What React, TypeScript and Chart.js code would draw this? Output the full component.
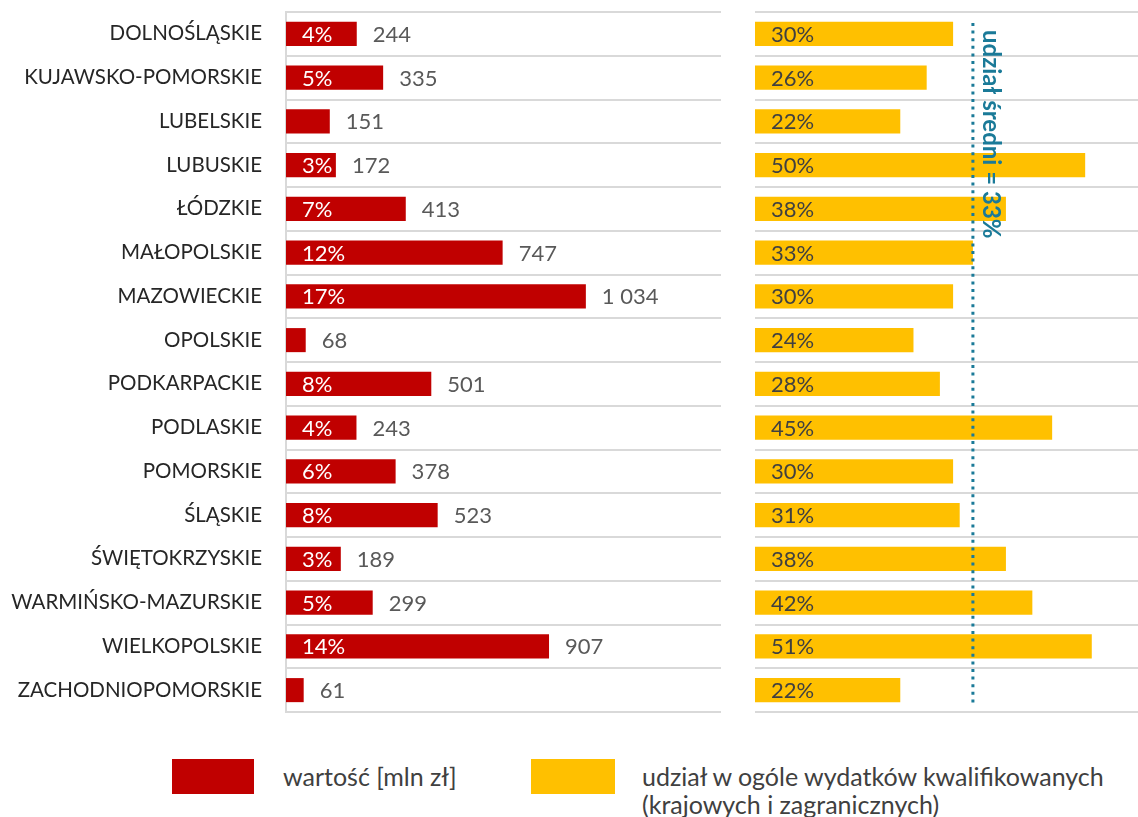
import React, { useEffect, useRef } from "react";
import { Chart, registerables } from "chart.js";

Chart.register(...registerables);

const regions = [
  "DOLNOŚLĄSKIE",
  "KUJAWSKO-POMORSKIE",
  "LUBELSKIE",
  "LUBUSKIE",
  "ŁÓDZKIE",
  "MAŁOPOLSKIE",
  "MAZOWIECKIE",
  "OPOLSKIE",
  "PODKARPACKIE",
  "PODLASKIE",
  "POMORSKIE",
  "ŚLĄSKIE",
  "ŚWIĘTOKRZYSKIE",
  "WARMIŃSKO-MAZURSKIE",
  "WIELKOPOLSKIE",
  "ZACHODNIOPOMORSKIE",
];
const valueMln = [244, 335, 151, 172, 413, 747, 1034, 68, 501, 243, 378, 523, 189, 299, 907, 61];
const valueSharePct = [4, 5, null, 3, 7, 12, 17, null, 8, 4, 6, 8, 3, 5, 14, null];
const qualifiedSharePct = [30, 26, 22, 50, 38, 33, 30, 24, 28, 45, 30, 31, 38, 42, 51, 22];
const averageSharePct = 33;
const averageLabel = "udział średni = 33%";
const legendValueLabel = "wartość [mln zł]";
const legendShareLines = ["udział w ogóle wydatków kwalifikowanych", "(krajowych i zagranicznych)"];

const FONT = "Lato, 'Open Sans', sans-serif";
const RED = "#C00000";
const YELLOW = "#FFC000";
const GRID = "#D9D9D9";
const TEAL = "#1A7A98";

const fmt = (v: number) => String(v).replace(/\B(?=(\d{3})+(?!\d))/g, " ");

export default function App() {
  const leftRef = useRef<HTMLCanvasElement>(null);
  const rightRef = useRef<HTMLCanvasElement>(null);

  useEffect(() => {
    const leftLabels = {
      id: "leftLabels",
      afterDatasetsDraw(chart: any) {
        const ctx = chart.ctx;
        const meta = chart.getDatasetMeta(0);
        ctx.save();
        ctx.font = `22px ${FONT}`;
        ctx.textBaseline = "middle";
        ctx.textAlign = "left";
        meta.data.forEach((bar: any, i: number) => {
          const { x, y, base } = bar.getProps(["x", "y", "base"], true);
          const pct = valueSharePct[i];
          if (pct !== null) {
            ctx.fillStyle = "#FFFFFF";
            ctx.fillText(`${pct}%`, base + 16, y + 1);
          }
          ctx.fillStyle = "#595959";
          ctx.fillText(fmt(valueMln[i]), x + 16, y + 1);
        });
        ctx.restore();
      },
    };

    const rightLabels = {
      id: "rightLabels",
      afterDatasetsDraw(chart: any) {
        const ctx = chart.ctx;
        const meta = chart.getDatasetMeta(0);
        ctx.save();
        ctx.font = `22px ${FONT}`;
        ctx.textBaseline = "middle";
        ctx.textAlign = "left";
        ctx.fillStyle = "#404040";
        meta.data.forEach((bar: any, i: number) => {
          const { y, base } = bar.getProps(["y", "base"], true);
          ctx.fillText(`${qualifiedSharePct[i]}%`, base + 16, y + 1);
        });
        const xs = chart.scales.x.getPixelForValue(averageSharePct);
        ctx.strokeStyle = TEAL;
        ctx.lineWidth = 3;
        ctx.setLineDash([3, 4.6]);
        ctx.beginPath();
        ctx.moveTo(xs, 23);
        ctx.lineTo(xs, 704);
        ctx.stroke();
        ctx.setLineDash([]);
        ctx.translate(xs + 18, 30);
        ctx.rotate(Math.PI / 2);
        ctx.font = `bold 24px ${FONT}`;
        ctx.fillStyle = TEAL;
        ctx.textBaseline = "middle";
        ctx.fillText(averageLabel, 0, 0);
        ctx.restore();
      },
    };

    const common = (min: number, max: number, yWidth: number, showTicks: boolean, showBorder: boolean) => ({
      indexAxis: "y" as const,
      responsive: false,
      animation: false as const,
      devicePixelRatio: 1,
      layout: { padding: { top: 12, bottom: 18, left: 0, right: 0 } },
      plugins: { legend: { display: false }, tooltip: { enabled: false } },
      scales: {
        x: { display: false, min, max },
        y: {
          afterFit(s: any) {
            s.width = yWidth;
            s.paddingTop = 0;
            s.paddingBottom = 0;
          },
          grid: { offset: true, color: GRID, lineWidth: 2, drawTicks: false },
          border: { display: showBorder, color: GRID, width: 2 },
          ticks: {
            display: showTicks,
            padding: 24,
            color: "#262626",
            font: { family: FONT, size: 20.5 },
          },
        },
      },
    });

    const left = new Chart(leftRef.current!, {
      type: "bar",
      data: {
        labels: regions,
        datasets: [
          {
            label: legendValueLabel,
            data: valueMln,
            backgroundColor: RED,
            barPercentage: 0.55,
            categoryPercentage: 1,
          },
        ],
      },
      options: common(0, 1500, 286, true, true) as any,
      plugins: [leftLabels],
    });

    const right = new Chart(rightRef.current!, {
      type: "bar",
      data: {
        labels: regions,
        datasets: [
          {
            label: legendShareLines.join(" "),
            data: qualifiedSharePct,
            backgroundColor: YELLOW,
            barPercentage: 0.55,
            categoryPercentage: 1,
          },
        ],
      },
      options: common(0, 58, 35, false, false) as any,
      plugins: [rightLabels],
    });

    return () => {
      left.destroy();
      right.destroy();
    };
  }, []);

  const legendText: React.CSSProperties = {
    position: "absolute",
    fontFamily: FONT,
    fontSize: 25,
    lineHeight: "28px",
    color: "#404040",
    whiteSpace: "nowrap",
  };

  return (
    <div style={{ position: "absolute", left: 0, top: 0, width: 1138, height: 817, background: "#fff", overflow: "hidden" }}>
      <canvas ref={leftRef} width={721} height={730} style={{ position: "absolute", left: 0, top: 0, width: 721, height: 730 }} />
      <canvas ref={rightRef} width={418} height={730} style={{ position: "absolute", left: 720, top: 0, width: 418, height: 730 }} />
      <div style={{ position: "absolute", left: 172, top: 759, width: 82, height: 35, background: RED }} />
      <div style={{ ...legendText, left: 283, top: 762 }}>{legendValueLabel}</div>
      <div style={{ position: "absolute", left: 531, top: 759, width: 84, height: 35, background: YELLOW }} />
      <div style={{ ...legendText, left: 642, top: 762 }}>
        {legendShareLines[0]}
        <br />
        {legendShareLines[1]}
      </div>
    </div>
  );
}
